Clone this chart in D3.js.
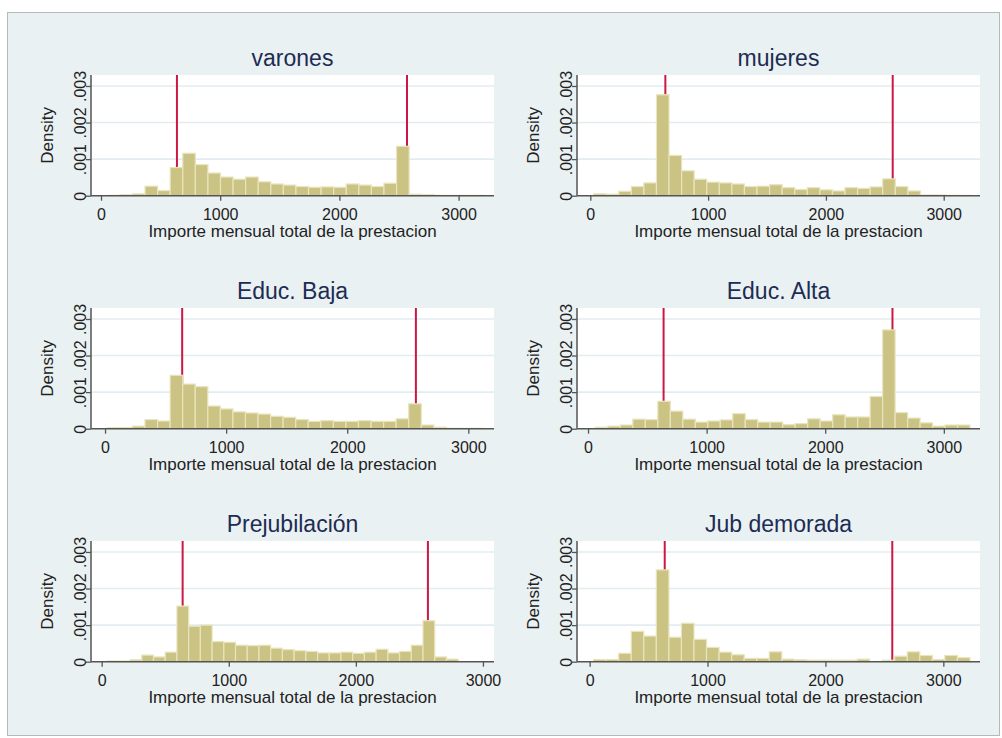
<!DOCTYPE html>
<html>
<head>
<meta charset="utf-8">
<script src="https://cdn.jsdelivr.net/npm/d3@7/dist/d3.min.js"></script>
<style>
  body { margin: 0; background: #ffffff; }
  svg text { font-family: "Liberation Sans", Arial, Helvetica, sans-serif; }
</style>
</head>
<body>
<div id="chart"></div>
<script>
'use strict';

// panel titles
var titles = ['varones', 'mujeres', 'Educ. Baja', 'Educ. Alta', 'Prejubilación', 'Jub demorada'];

// densities per bin (30 bins each)
var densVarones = [0.00001, 0.00003, 0.00005, 0.00026, 0.00014, 0.00077, 0.00116, 0.00085, 0.00062, 0.00051,
                   0.00045, 0.00051, 0.00038, 0.00032, 0.00029, 0.00025, 0.00023, 0.00024, 0.00023, 0.00032,
                   0.00029, 0.00025, 0.00034, 0.00135, 0.00004, 0.00003, 0.00001, 0.00001, 0.00001, 0.00001];
var densMujeres = [0.00005, 0.00004, 0.00012, 0.00025, 0.00035, 0.00276, 0.0011, 0.00068, 0.00045, 0.00037,
                   0.00035, 0.00032, 0.00025, 0.00026, 0.0003, 0.00022, 0.00017, 0.00022, 0.00016, 0.00013,
                   0.00022, 0.0002, 0.00024, 0.00046, 0.00025, 0.00013, 0.00002, 0.00002, 0.00001, 0.00001];
var densEducBaja = [0.00003, 0.00003, 0.00007, 0.00025, 0.00021, 0.00146, 0.00122, 0.00115, 0.00062, 0.00054,
                    0.00046, 0.00043, 0.0004, 0.00034, 0.00031, 0.00025, 0.0002, 0.00022, 0.0002, 0.0002,
                    0.00022, 0.0002, 0.0002, 0.00027, 0.00068, 0.0001, 0.00004, 0.00001, 0.00001, 0.00001];
var densEducAlta = [0.00004, 0.00007, 0.0001, 0.00026, 0.00025, 0.00075, 0.00048, 0.00026, 0.00018, 0.00021,
                    0.00024, 0.00041, 0.00025, 0.00018, 0.00018, 0.00011, 0.00014, 0.00027, 0.00021, 0.00038,
                    0.00032, 0.00032, 0.00088, 0.0027, 0.00044, 0.00029, 0.00016, 0.00007, 0.0001, 0.0001];
var densPrejub = [0.00002, 0.00002, 0.00005, 0.00018, 0.00013, 0.00026, 0.00152, 0.00097, 0.001, 0.00055,
                  0.00053, 0.00045, 0.00044, 0.00045, 0.00037, 0.00033, 0.0003, 0.00028, 0.00024, 0.00024,
                  0.00026, 0.00023, 0.00026, 0.00034, 0.00024, 0.00028, 0.00045, 0.00112, 0.00013, 0.00007];
var densJubDem = [0.00006, 0.00006, 0.00023, 0.00083, 0.0007, 0.00251, 0.00067, 0.00105, 0.00061, 0.00039,
                  0.00026, 0.00019, 0.00009, 0.00009, 0.00027, 0.00007, 0.00005, 0.00004, 0.00004, 0.00004,
                  0.00004, 0.00007, 0, 0.00004, 0.00015, 0.00027, 0.00017, 0.00006, 0.00017, 0.00011];

var densities = [densVarones, densMujeres, densEducBaja, densEducAlta, densPrejub, densJubDem];

// start of first bin and bin width for each panel
var binStarts = [53, 28, 19, 62, 39, 34];
var binWidths = [105.5, 106.7, 103.7, 105.3, 92.2, 106.4];

// x axis limits used by each panel
var xLimits = [[-84, 3297], [-113, 3308], [-116, 3212], [-93, 3305], [-84, 3087], [-107, 3311]];

var refLines = [637, 2567];
var xTicks = [0, 1000, 2000, 3000];
var yTicks = [0, 0.001, 0.002, 0.003];
var yTickLabels = ['0', '.001', '.002', '.003'];
var yMax = 0.0033;

var width = 1002;
var height = 738;
var plotW = 403;
var plotH = 120.7;
var colLeft = [91, 577];
var rowTop = [75, 308, 541];
var tickFont = 16;
var labelFont = 17;

var svg = d3.select('#chart')
    .append('svg')
    .attr('width', width)
    .attr('height', height);

// graph region
svg.append('rect')
    .attr('x', 7.5)
    .attr('y', 12.5)
    .attr('width', 992)
    .attr('height', 723)
    .attr('fill', '#eaf1f3')
    .attr('stroke', '#b4b9bb')
    .attr('stroke-width', 1);

titles.forEach(function(title, p){
    var left = colLeft[p % 2];
    var top = rowTop[Math.floor(p / 2)];

    var x = d3.scaleLinear().domain(xLimits[p]).range([0, plotW]);
    var y = d3.scaleLinear().domain([0, yMax]).range([plotH, 0]);

    var g = svg.append('g')
        .attr('transform', 'translate(' + left + ',' + top + ')');

    g.append('rect')
        .attr('width', plotW)
        .attr('height', plotH)
        .attr('fill', '#ffffff');

    // grid
    g.selectAll('.grid')
        .data(yTicks.slice(1))
        .enter()
        .append('line')
        .attr('x1', 0)
        .attr('x2', plotW)
        .attr('y1', function(d){ return y(d); })
        .attr('y2', function(d){ return y(d); })
        .attr('stroke', '#e3ecf0')
        .attr('stroke-width', 1.6);

    // reference lines (behind the bars)
    g.selectAll('.ref')
        .data(refLines)
        .enter()
        .append('line')
        .attr('x1', function(d){ return x(d); })
        .attr('x2', function(d){ return x(d); })
        .attr('y1', 0)
        .attr('y2', plotH)
        .attr('stroke', '#cc1744')
        .attr('stroke-width', 2);

    var start = binStarts[p];
    var bw = binWidths[p];
    g.selectAll('.bar')
        .data(densities[p])
        .enter()
        .append('rect')
        .attr('x', function(d, i){ return x(start + i * bw); })
        .attr('width', function(d, i){ return x(start + (i + 1) * bw) - x(start + i * bw); })
        .attr('y', function(d){ return y(d); })
        .attr('height', function(d){ return plotH - y(d); })
        .attr('fill', '#cbc384')
        .attr('stroke', '#e8e4bd')
        .attr('stroke-width', 1.2)
        .style('display', function(d){ return d > 0 ? null : 'none'; });

    // x axis
    var xAxis = g.append('g')
        .attr('transform', 'translate(0,' + plotH + ')')
        .call(d3.axisBottom(x).tickValues(xTicks).tickSize(5).tickPadding(8).tickFormat(d3.format('d')));
    xAxis.select('.domain').attr('d', 'M0,0H' + plotW).attr('stroke', '#555').attr('stroke-width', 1.5);
    xAxis.selectAll('.tick line').attr('stroke', '#555').attr('stroke-width', 1.3);
    xAxis.selectAll('.tick text')
        .attr('font-size', tickFont)
        .attr('fill', '#222');

    // y axis
    var yAxis = g.append('g')
        .call(d3.axisLeft(y).tickValues(yTicks).tickSize(5)
            .tickFormat(function(d, i){ return yTickLabels[i]; }));
    yAxis.select('.domain').attr('d', 'M0,0V' + plotH).attr('stroke', '#555').attr('stroke-width', 1.5);
    yAxis.selectAll('.tick line').attr('stroke', '#555').attr('stroke-width', 1.3);
    yAxis.selectAll('.tick text')
        .attr('x', null)
        .attr('dy', null)
        .attr('transform', 'translate(-5,0) rotate(-90)')
        .attr('text-anchor', 'middle')
        .attr('font-size', tickFont)
        .attr('fill', '#222');

    // titles and labels
    g.append('text')
        .attr('x', plotW / 2)
        .attr('y', -9)
        .attr('text-anchor', 'middle')
        .attr('font-size', 23)
        .attr('fill', '#1d2c52')
        .text(title);

    g.append('text')
        .attr('x', plotW / 2)
        .attr('y', plotH + 41)
        .attr('text-anchor', 'middle')
        .attr('font-size', labelFont)
        .attr('fill', '#222')
        .text('Importe mensual total de la prestacion');

    g.append('text')
        .attr('transform', 'translate(-38,' + (plotH / 2) + ') rotate(-90)')
        .attr('text-anchor', 'middle')
        .attr('font-size', labelFont)
        .attr('fill', '#222')
        .text('Density');
});
</script>
</body>
</html>
